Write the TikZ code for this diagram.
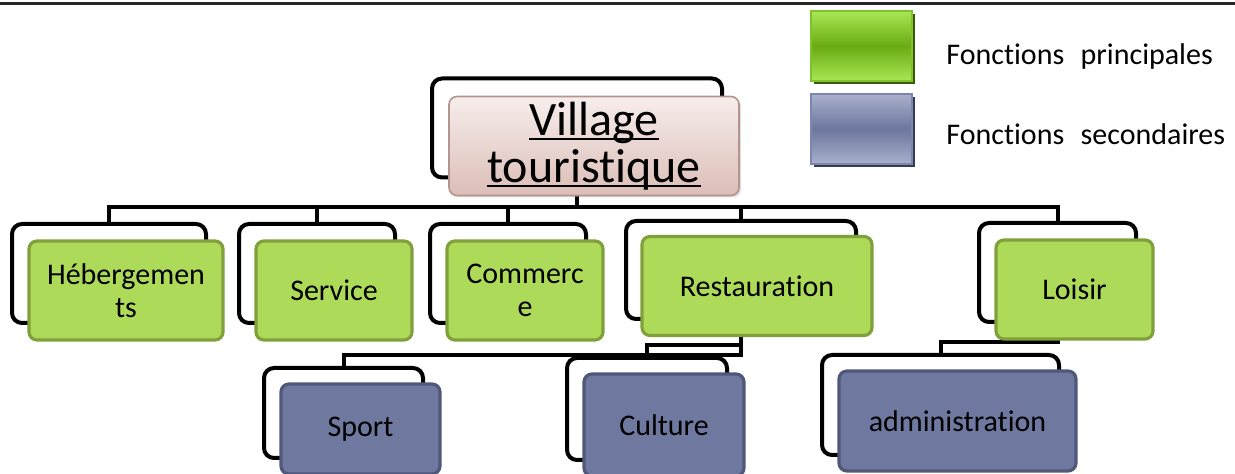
\documentclass[tikz,border=0pt]{standalone}
\usepackage{fontspec}
\setmainfont{Carlito}[RawFeature={-liga}]
\usepackage{xcolor}
\usepackage{tikz}
\usetikzlibrary{shadows}

\definecolor{vertfond}{HTML}{ADDA58}
\definecolor{vertbord}{HTML}{80A03C}
\definecolor{bleufond}{HTML}{6F79A0}
\definecolor{bleubord}{HTML}{50587A}
\definecolor{rosehaut}{HTML}{F6EEEC}
\definecolor{rosebas}{HTML}{DCBDB7}
\definecolor{rosebord}{HTML}{B39490}
\definecolor{legvertclair}{HTML}{A9E855}
\definecolor{legvertfonce}{HTML}{6AAA12}
\definecolor{legvertbord}{HTML}{82C02E}
\definecolor{legvertombre}{HTML}{3D5A0C}
\definecolor{legbleuclair}{HTML}{AAB0CC}
\definecolor{legbleufonce}{HTML}{6C779E}
\definecolor{legbleubord}{HTML}{7C86AE}
\definecolor{legbleuombre}{HTML}{363B58}

\newcommand\souligne[1]{\setbox0\hbox{#1}\rlap{\rule[-2.6pt]{\wd0}{1pt}}\box0}

\begin{document}
\begin{tikzpicture}[x=0.5pt,y=-0.5pt,
    font=\fontsize{15}{16.5}\selectfont,
    cadre/.style={draw=black,line width=2pt,rounded corners=5pt,fill=white,inner sep=0pt,outer sep=0pt},
    boite/.style={line width=1.6pt,rounded corners=4pt,inner sep=0pt,outer sep=0pt,align=center},
    principale/.style={boite,draw=vertbord,fill=vertfond},
    secondaire/.style={boite,draw=bleubord,fill=bleufond},
    legende/.style={line width=1pt,inner sep=0pt,minimum width=50.5pt,minimum height=35pt},
    lien/.style={draw=black,line width=2pt}]
  \useasboundingbox (0,0) rectangle (1235,474);
  \draw[line width=1.5pt,black!85] (0,4) -- (1235,4);

  % cadres noirs derriere les boites
  \foreach \n/\x/\y/\w/\h in {root/577/128/145pt/49.5pt, heb/109/273.5/97pt/49.5pt,
      serv/317/273.5/78pt/49.5pt, comm/508/273.5/78pt/49.5pt, resto/741/270/115pt/49pt,
      lois/1057.5/272.5/78.5pt/49.5pt, sport/343.5/413/79.5pt/45pt,
      cult/647/409/80pt/51pt, admin/940.5/405/118.5pt/50pt}
    \node[cadre,minimum width=\w,minimum height=\h] (\n-f) at (\x,\y) {};

  % liens
  \foreach \n in {heb,serv,comm,resto,lois}
    \draw[lien] (root-f.south) -- ++(0,30) -| (\n-f.north);
  \draw[lien] (resto-f.south) -- ++(0,36) -| (sport-f.north);
  \draw[lien] (resto-f.south) -- ++(0,26) -| (cult-f.north);
  \draw[lien] (lois-f.south) -- ++(0,20) -| (admin-f.north);

  % boites
  \node[boite,draw=rosebord,line width=0.8pt,top color=rosehaut,bottom color=rosebas,
        minimum width=145pt,minimum height=49.5pt,font=\fontsize{24}{23.5}\selectfont,
        drop shadow={opacity=0.25,shadow xshift=1pt,shadow yshift=-1pt}]
        (root) at ([shift={(17,18)}]root-f) {\souligne{Village}\\\souligne{touristique}};
  \foreach \n/\dx/\w/\t in {heb/17/97pt/{Hébergemen\\ts}, serv/17/78pt/Service,
      comm/17/78pt/{Commerc\\e}, resto/16/115pt/Restauration, lois/17/78.5pt/Loisir}
    \node[principale,minimum width=\w,minimum height=49.5pt] (\n) at ([shift={(\dx,\dx)}]\n-f) {\t};
  \foreach \n/\w/\h/\t in {sport/79.5pt/45pt/Sport, cult/80pt/51pt/Culture,
      admin/118.5pt/50pt/administration}
    \node[secondaire,minimum width=\w,minimum height=\h] (\n) at ([shift={(17,16)}]\n-f) {\t};

  % legende
  \node[legende,draw=legvertbord,top color=legvertclair,bottom color=legvertclair,middle color=legvertfonce,
        drop shadow={shadow xshift=1.5pt,shadow yshift=-1.5pt,fill=legvertombre,opacity=1}] (leg-p) at (861.5,46) {};
  \node[legende,draw=legbleubord,top color=legbleuclair,bottom color=legbleuclair,middle color=legbleufonce,
        drop shadow={shadow xshift=1.5pt,shadow yshift=-1.5pt,fill=legbleuombre,opacity=1}] (leg-s) at (861.5,129) {};
  \node[anchor=base west,inner sep=0pt] (txt-p) at (946,65) {Fonctions\hspace{0.55em}principales};
  \node[anchor=base west,inner sep=0pt] (txt-s) at (946,145) {Fonctions\hspace{0.55em}secondaires};
\end{tikzpicture}
\end{document}
